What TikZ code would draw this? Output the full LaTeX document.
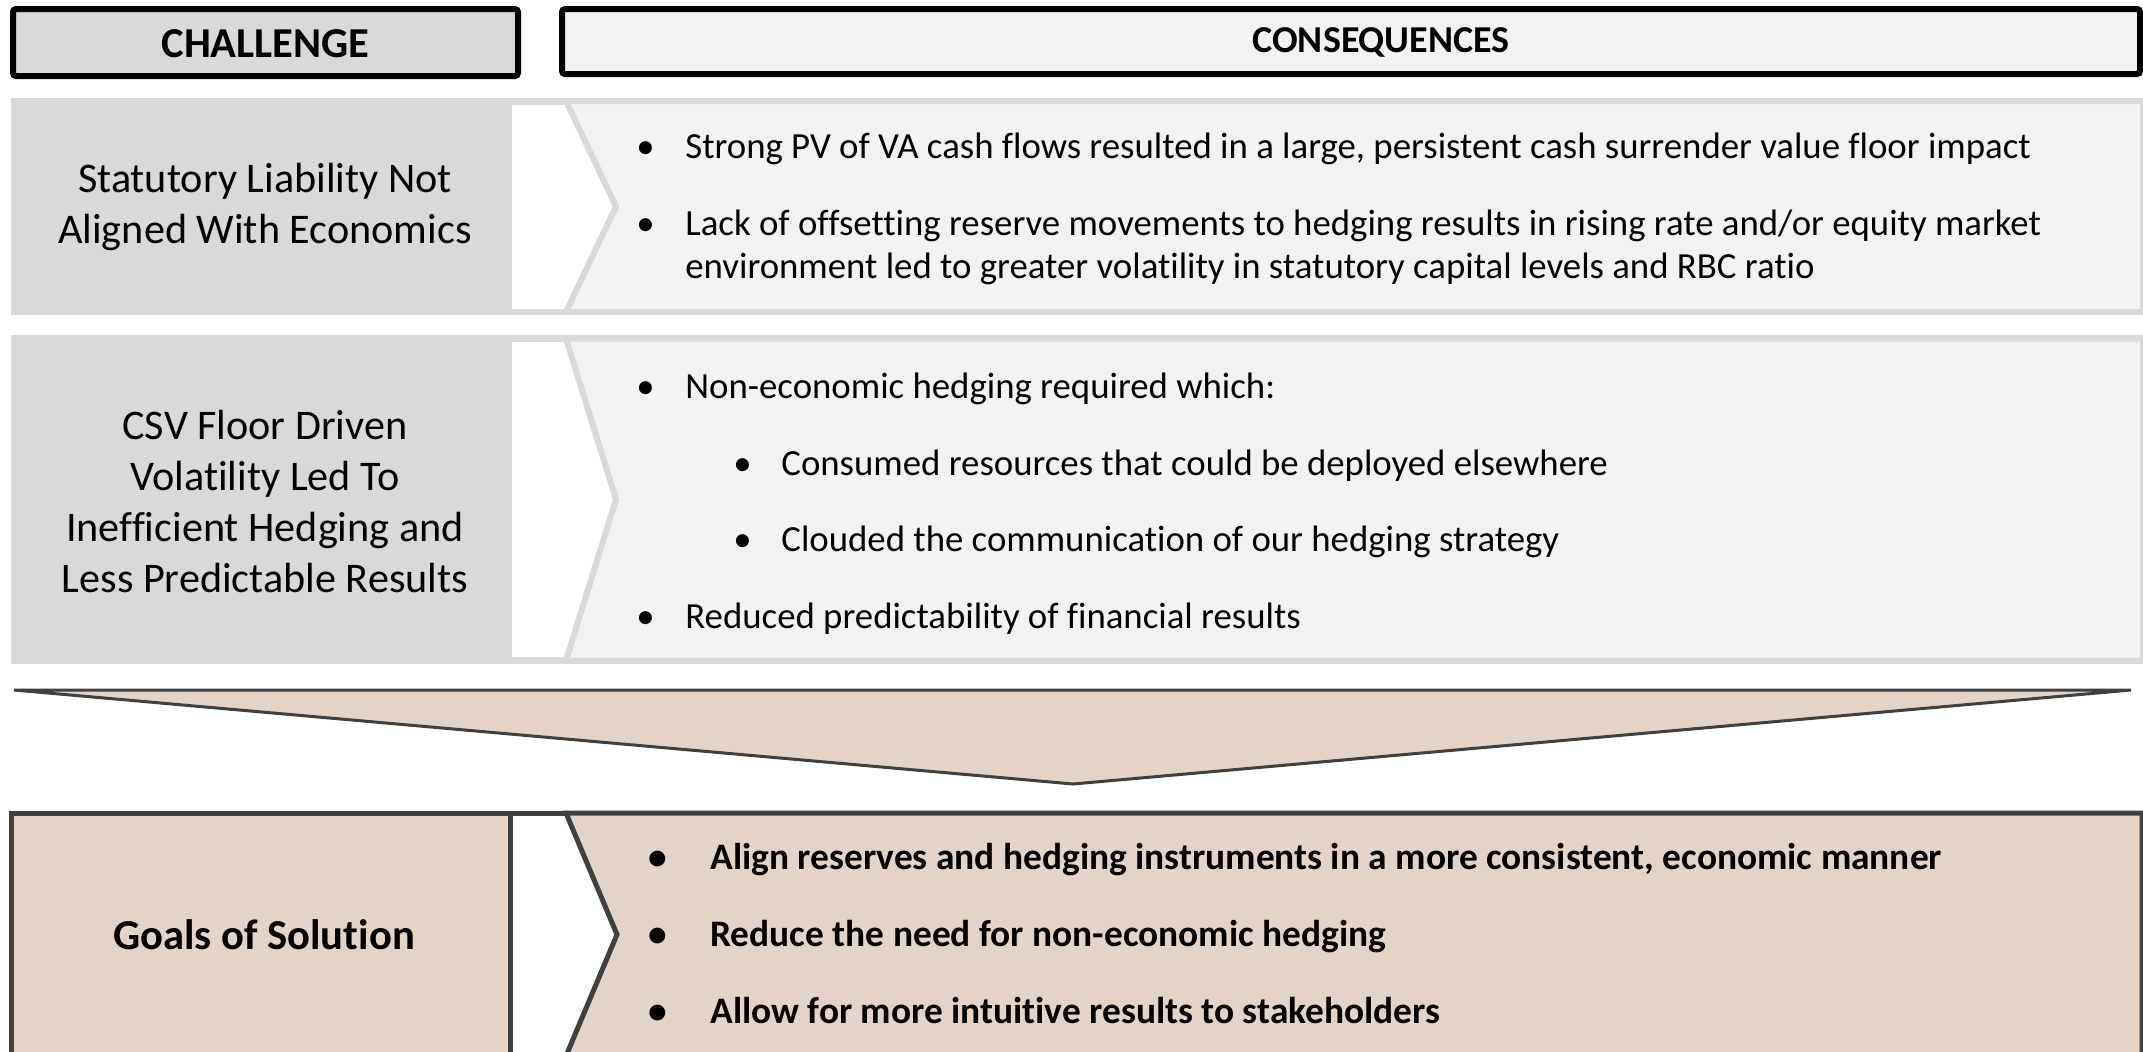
\documentclass[tikz,border=0pt]{standalone}
\usepackage{fontspec}
\setmainfont{Carlito}[Ligatures={NoCommon,NoRare,NoContextual}]
\definecolor{bandgray}{HTML}{DAD9DA}
\definecolor{panel}{HTML}{F2F2F2}
\definecolor{hdrA}{HTML}{DAD9DA}
\definecolor{hdrB}{HTML}{F2F2F2}
\definecolor{beige}{HTML}{E4D3C7}
\definecolor{darkline}{HTML}{404040}
\begin{document}
\begin{tikzpicture}[x=0.5pt,y=-0.5pt,
  lbl/.style={inner sep=0pt, align=center, font=\fontsize{21.1pt}{25.5pt}\selectfont},
  hdr/.style={inner sep=0pt, font=\bfseries\fontsize{21.3pt}{25pt}\selectfont},
  itm/.style={inner sep=0pt, anchor=base west, font=\fontsize{18.4pt}{21.75pt}\selectfont},
  bitm/.style={inner sep=0pt, anchor=base west, font=\bfseries\fontsize{18.7pt}{21.75pt}\selectfont},
  hdrbox/.style={draw=black, line width=3pt, rounded corners=1.5pt},
  lightpanel/.style={fill=panel, draw=bandgray, line width=3pt, line join=miter},
  beigepanel/.style={fill=beige, draw=darkline, line width=2.5pt, line join=miter}
]
\useasboundingbox (0,0) rectangle (2143,1051);
\fill[white] (0,0) rectangle (2143,1051);

% ---------- headers
\draw[hdrbox, fill=hdrA] (13,9) rectangle (518,76);
\node[hdr] (chal) at (265.5,43.5) {CHALLENGE};
\draw[hdrbox, fill=hdrB] (562,9) rectangle (2140,74);
\node[hdr, font=\bfseries\fontsize{19pt}{23pt}\selectfont] (cons) at (1381,42) {CONSEQUENCES};

% ---------- row 1
\fill[bandgray] (11,98) rectangle (2143,315);
\fill[white] (512,105) -- (566,105) -- (616,206.5) -- (566,309) -- (512,309) -- cycle;
\filldraw[lightpanel] (566,101) -- (2143,101) -- (2143,312) -- (566,312) -- (616,206.5) -- cycle;
\node[lbl] (c1) at (265,207) {Statutory Liability Not\\Aligned With Economics};
\node[itm] (r1a) at (636,158) {\makebox[24.5pt][l]{•}Strong PV of VA cash flows resulted in a large, persistent cash surrender value floor impact};
\node[itm] (r1b) at (636,235) {\makebox[24.5pt][l]{•}\begin{tabular}[t]{@{}l@{}}Lack of offsetting reserve movements to hedging results in rising rate and/or equity market\\environment led to greater volatility in statutory capital levels and RBC ratio\end{tabular}};

% ---------- row 2
\fill[bandgray] (11,335) rectangle (2143,664);
\fill[white] (512,342) -- (566,342) -- (616,499.5) -- (566,657) -- (512,657) -- cycle;
\filldraw[lightpanel] (566,338.5) -- (2143,338.5) -- (2143,660.5) -- (566,660.5) -- (616,499.5) -- cycle;
\node[lbl] (c2) at (265,501.5) {CSV Floor Driven\\Volatility Led To\\Inefficient Hedging and\\Less Predictable Results};
\node[itm] (r2a) at (636,398) {\makebox[24.5pt][l]{•}Non-economic hedging required which:};
\node[itm] (r2b) at (733,475) {\makebox[24pt][l]{•}Consumed resources that could be deployed elsewhere};
\node[itm] (r2c) at (733,551) {\makebox[24pt][l]{•}Clouded the communication of our hedging strategy};
\node[itm] (r2d) at (636,628) {\makebox[24.5pt][l]{•}Reduced predictability of financial results};

% ---------- funnel triangle
\filldraw[fill=beige, draw=darkline, line width=1.5pt] (14,690) -- (2131,690) -- (1073,784) -- cycle;

% ---------- goals panel
\fill[white] (510,813) -- (566,813) -- (617,934.5) -- (566,1056) -- (510,1056) -- cycle;
\draw[darkline, line width=2.5pt] (510,813) -- (566,813);
\filldraw[beigepanel] (11.5,813) rectangle (510,1075);
\filldraw[beigepanel] (566,813) -- (2142,813) -- (2142,1056) -- (566,1056) -- (617,934.5) -- cycle;
\node[hdr] (goal) at (264,935) {Goals of Solution};
\node[bitm] (g1) at (648,869) {\makebox[31pt][l]{•}Align reserves and hedging instruments in a more consistent, economic manner};
\node[bitm] (g2) at (648,946) {\makebox[31pt][l]{•}Reduce the need for non-economic hedging};
\node[bitm] (g3) at (648,1023) {\makebox[31pt][l]{•}Allow for more intuitive results to stakeholders};
\end{tikzpicture}
\end{document}
